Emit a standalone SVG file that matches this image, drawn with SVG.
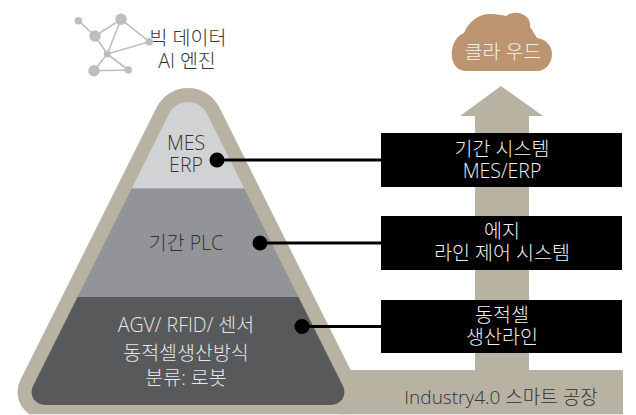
<svg xmlns="http://www.w3.org/2000/svg" width="636" height="415" viewBox="0 0 636 415">
<style>
text{font-family:"Open Sans","Noto Sans CJK KR","Noto Sans",sans-serif;font-weight:300;text-anchor:middle;font-size:19.500px}
.d{fill:#333335}.l{fill:#e6e7e8}.w{fill:#f1f2f2}
.net line{stroke:#bcbec0;stroke-width:1.6}.net circle{fill:#bcbec0}
.box{fill:#000}.ln{stroke:#000;stroke-width:3;fill:none}.dot{fill:#000}
</style>
<defs>
<path id="tri" d="M169.2 113.6A21 21 0 0 1 206.8 113.6L343.1 386.2A13 13 0 0 1 331.5 405H44.5A13 13 0 0 1 32.9 386.2Z"/>
<clipPath id="in"><use href="#tri"/></clipPath>
<clipPath id="page"><rect x="0" y="0" width="636" height="414.3"/></clipPath>
</defs>
<rect width="636" height="415" fill="#fff"/>
<g id="platform" fill="#b8b2a3">
<path d="M501 86L543 116H529V372H475V116H460Z"/>
<rect x="340" y="370" width="283" height="44.3"/>
<use href="#tri" stroke="#b8b2a3" stroke-width="28" stroke-linejoin="round" clip-path="url(#page)"/>
</g>
<g id="pyramid" clip-path="url(#in)">
<rect x="0" y="80" width="400" height="108.5" fill="#d0d2d3"/>
<rect x="0" y="188.5" width="400" height="108.5" fill="#929497"/>
<rect x="0" y="297" width="400" height="110" fill="#58595b"/>
</g>
<g id="node-mes"><text class="d"><tspan x="186" y="150">MES</tspan><tspan x="186" y="172">ERP</tspan></text></g>
<g id="node-plc"><text class="d" x="186" y="250">기간 PLC</text></g>
<g id="node-agv"><text class="l"><tspan x="186" y="332">AGV/ RFID/ 센서</tspan><tspan x="186" y="360">동적셀생산방식</tspan><tspan x="186" y="385">분류: 로봇</tspan></text></g>
<g id="node-bigdata" class="net">
<line x1="78.3" y1="20.7" x2="95" y2="36"/><line x1="95" y1="36" x2="121" y2="19.3"/><line x1="121" y1="19.3" x2="149.3" y2="41.7"/><line x1="121" y1="19.3" x2="107.3" y2="54"/><line x1="95" y1="36" x2="107.3" y2="54"/><line x1="107.3" y1="54" x2="149.3" y2="41.7"/><line x1="107.3" y1="54" x2="94" y2="70.7"/><line x1="107.3" y1="54" x2="128.3" y2="70"/><line x1="94" y1="70.7" x2="128.3" y2="70"/>
<circle cx="78.3" cy="20.7" r="3.7"/><circle cx="95" cy="36" r="5.7"/><circle cx="121" cy="19.3" r="5.7"/><circle cx="149.3" cy="41.7" r="3.7"/><circle cx="107.3" cy="54" r="3.5"/><circle cx="94" cy="70.7" r="5.7"/><circle cx="128.3" cy="70" r="3.7"/>
<text class="d"><tspan x="188" y="45">빅 데이터</tspan><tspan x="187" y="68">AI 엔진</tspan></text>
</g>
<g id="node-cloud">
<path fill="#bc9470" d="M466 71C456 71 451.7 62 451.7 54C451.7 43 458 35 464 33C469 21 479 14 490 14C497 14 502 15 506 16C510 13 514 12.500 518 13C526 14 531 20 530 27C533 31 535 35 537 38C546 39 552 46 552 54C552 63 546 71 537 71Z"/>
<text class="w" x="503" y="59">클라 우드</text>
</g>
<g id="connectors">
<line class="ln" x1="217" y1="160" x2="381" y2="160"/><circle class="dot" cx="217" cy="160" r="7.500"/>
<line class="ln" x1="260" y1="243" x2="381" y2="243"/><circle class="dot" cx="260" cy="243" r="7.500"/>
<line class="ln" x1="302" y1="326.500" x2="381" y2="326.500"/><circle class="dot" cx="302" cy="326.500" r="7.500"/>
</g>
<g id="node-box1"><rect class="box" x="381" y="133" width="241" height="54"/><text class="w"><tspan x="502" y="156">기간 시스템</tspan><tspan x="502" y="178">MES/ERP</tspan></text></g>
<g id="node-box2"><rect class="box" x="381" y="216" width="241" height="54"/><text class="w"><tspan x="502" y="238">에지</tspan><tspan x="502" y="260">라인 제어 시스템</tspan></text></g>
<g id="node-box3"><rect class="box" x="381" y="300" width="241" height="53"/><text class="w"><tspan x="502" y="322">동적셀</tspan><tspan x="502" y="344">생산라인</tspan></text></g>
<g id="node-factory"><text class="d" x="501" y="404" style="font-size:19px">Industry4.0 스마트 공장</text></g>
</svg>
